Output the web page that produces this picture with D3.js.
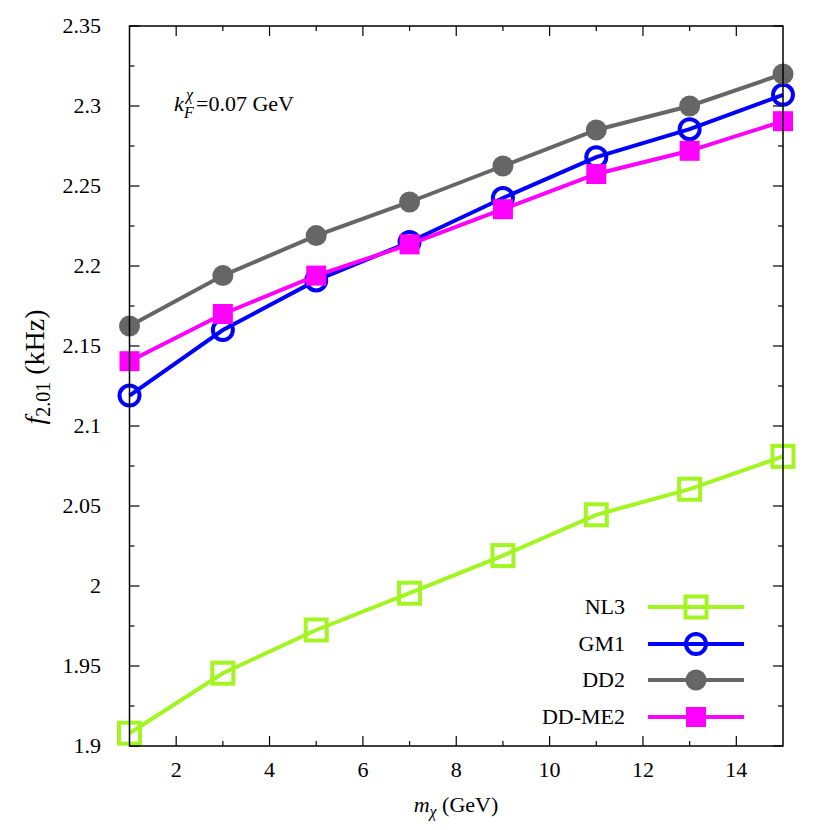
<!DOCTYPE html>
<html>
<head>
<meta charset="utf-8">
<script src="https://cdn.jsdelivr.net/npm/d3@7"></script>
<style>
  body { margin: 0; background: #fff; }
</style>
</head>
<body>
<div id="chart"></div>
<script>
// f_2.01 vs m_chi for four EoS

var mChi = [1, 3, 5, 7, 9, 11, 13, 15];

var nl3   = [1.908, 1.9455, 1.9725, 1.9955, 2.019, 2.0445, 2.0605, 2.081];
var gm1   = [2.119, 2.160, 2.191, 2.215, 2.2425, 2.268, 2.2855, 2.307];
var dd2   = [2.1625, 2.194, 2.219, 2.240, 2.2625, 2.285, 2.300, 2.320];
var ddme2 = [2.1405, 2.170, 2.194, 2.2135, 2.2355, 2.2575, 2.272, 2.2905];

var seriesNames = ["NL3", "GM1", "DD2", "DD-ME2"];
var xTicks = [2, 4, 6, 8, 10, 12, 14];
var yTicks = [1.9, 1.95, 2, 2.05, 2.1, 2.15, 2.2, 2.25, 2.3, 2.35];

var width = 830,
    height = 830;

var margin = {left: 129.5, right: 47, top: 26, bottom: 84};
var serif = "'Liberation Serif', 'Times New Roman', 'DejaVu Serif', serif";

var svg = d3.select("#chart").append("svg")
    .attr("width", width)
    .attr("height", height)
    .attr("font-family", serif)
    .style("font-family", serif);

var x = d3.scaleLinear()
    .domain([1, 15])
    .range([margin.left, width - margin.right]);

var y = d3.scaleLinear()
    .domain([1.9, 2.35])
    .range([height - margin.bottom, margin.top]);

var series = [
  {name: "NL3",    vals: nl3,   color: "#a2f520", marker: "osquare"},
  {name: "GM1",    vals: gm1,   color: "#0000ff", marker: "ocircle"},
  {name: "DD2",    vals: dd2,   color: "#666666", marker: "fcircle"},
  {name: "DD-ME2", vals: ddme2, color: "#ff00ff", marker: "fsquare"}
];

// ticks (inward, mirrored on top/right)
var g = svg.append("g").attr("stroke", "#000").attr("stroke-width", 1.2);
var xMinor = [3, 5, 7, 9, 11, 13];
xTicks.forEach(function(v) {
  g.append("line").attr("x1", x(v)).attr("x2", x(v)).attr("y1", y(1.9)).attr("y2", y(1.9) - 10);
  g.append("line").attr("x1", x(v)).attr("x2", x(v)).attr("y1", y(2.35)).attr("y2", y(2.35) + 10);
});
xMinor.forEach(function(v) {
  g.append("line").attr("x1", x(v)).attr("x2", x(v)).attr("y1", y(1.9)).attr("y2", y(1.9) - 5);
  g.append("line").attr("x1", x(v)).attr("x2", x(v)).attr("y1", y(2.35)).attr("y2", y(2.35) + 5);
});
yTicks.forEach(function(v, i) {
  g.append("line").attr("x1", x(1)).attr("x2", x(1) + 10).attr("y1", y(v)).attr("y2", y(v));
  g.append("line").attr("x1", x(15)).attr("x2", x(15) - 10).attr("y1", y(v)).attr("y2", y(v));
  if (i < yTicks.length - 1) {
    var m = v + 0.025;
    g.append("line").attr("x1", x(1)).attr("x2", x(1) + 5).attr("y1", y(m)).attr("y2", y(m));
    g.append("line").attr("x1", x(15)).attr("x2", x(15) - 5).attr("y1", y(m)).attr("y2", y(m));
  }
});

// tick labels
svg.append("g").selectAll("text")
   .data(xTicks)
   .enter().append("text")
   .attr("x", function(d) { return x(d); })
   .attr("y", 777)
   .attr("text-anchor", "middle")
   .attr("font-size", 22)
   .text(function(d) { return d; });

svg.append("g").selectAll("text")
   .data(yTicks)
   .enter().append("text")
   .attr("x", 101)
   .attr("y", function(d) { return y(d) + 7; })
   .attr("text-anchor", "end")
   .attr("font-size", 22)
   .text(function(d) { return +d.toFixed(2); });

// lines and markers
var line = d3.line()
    .x(function(d, i) { return x(mChi[i]); })
    .y(function(d) { return y(d); });

function drawMarker(sel, type, color, cx, cy) {
  if (type == "osquare") {
    sel.append("rect").attr("x", cx - 10.5).attr("y", cy - 10.5).attr("width", 21).attr("height", 21)
       .attr("fill", "none").attr("stroke", color).attr("stroke-width", 4);
  } else if (type == "ocircle") {
    sel.append("circle").attr("cx", cx).attr("cy", cy).attr("r", 10)
       .attr("fill", "none").attr("stroke", color).attr("stroke-width", 4);
  } else if (type == "fcircle") {
    sel.append("circle").attr("cx", cx).attr("cy", cy).attr("r", 10.5).attr("fill", color);
  } else {
    sel.append("rect").attr("x", cx - 10).attr("y", cy - 10).attr("width", 20).attr("height", 20)
       .attr("fill", color);
  }
}

series.forEach(function(s) {
  var sg = svg.append("g");
  sg.append("path")
    .datum(s.vals)
    .attr("d", line)
    .attr("fill", "none")
    .attr("stroke", s.color)
    .attr("stroke-width", 4);
  s.vals.forEach(function(v, i) {
    drawMarker(sg, s.marker, s.color, x(mChi[i]), y(v));
  });
});

// frame on top
svg.append("rect")
   .attr("x", x(1)).attr("y", y(2.35))
   .attr("width", x(15) - x(1)).attr("height", y(1.9) - y(2.35))
   .attr("fill", "none").attr("stroke", "#000").attr("stroke-width", 1.5);

// legend
var legY = [607, 644, 680, 717];
series.forEach(function(s, i) {
  var lg = svg.append("g");
  lg.append("text")
    .attr("x", 625).attr("y", legY[i] + 7)
    .attr("text-anchor", "end")
    .attr("font-size", 22)
    .text(seriesNames[i]);
  lg.append("line")
    .attr("x1", 648).attr("x2", 744)
    .attr("y1", legY[i]).attr("y2", legY[i])
    .attr("stroke", s.color).attr("stroke-width", 4);
  drawMarker(lg, s.marker, s.color, 696, legY[i]);
});

// annotation k_F^chi
svg.append("text").attr("x", 174).attr("y", 111).attr("font-size", 22)
   .attr("font-style", "italic").text("k");
svg.append("text").attr("x", 186).attr("y", 100).attr("font-size", 16)
   .attr("font-style", "italic").text("χ");
svg.append("text").attr("x", 184).attr("y", 118).attr("font-size", 16)
   .attr("font-style", "italic").text("F");
svg.append("text").attr("x", 196).attr("y", 111).attr("font-size", 22)
   .text("=0.07 GeV");

// axis titles
var xl = svg.append("text")
    .attr("x", 456).attr("y", 812)
    .attr("text-anchor", "middle")
    .attr("font-size", 22);
xl.append("tspan").attr("font-style", "italic").text("m");
xl.append("tspan").attr("font-style", "italic").attr("font-size", 16).attr("dy", 5).text("χ");
xl.append("tspan").attr("dy", -5).text(" (GeV)");

var yl = svg.append("text")
    .attr("transform", "translate(44,367) rotate(-90)")
    .attr("text-anchor", "middle")
    .attr("font-size", 28);
yl.append("tspan").attr("font-style", "italic").text("f");
yl.append("tspan").attr("font-size", 20).attr("dy", 6).text("2.01");
yl.append("tspan").attr("dy", -6).text(" (kHz)");
</script>
</body>
</html>
